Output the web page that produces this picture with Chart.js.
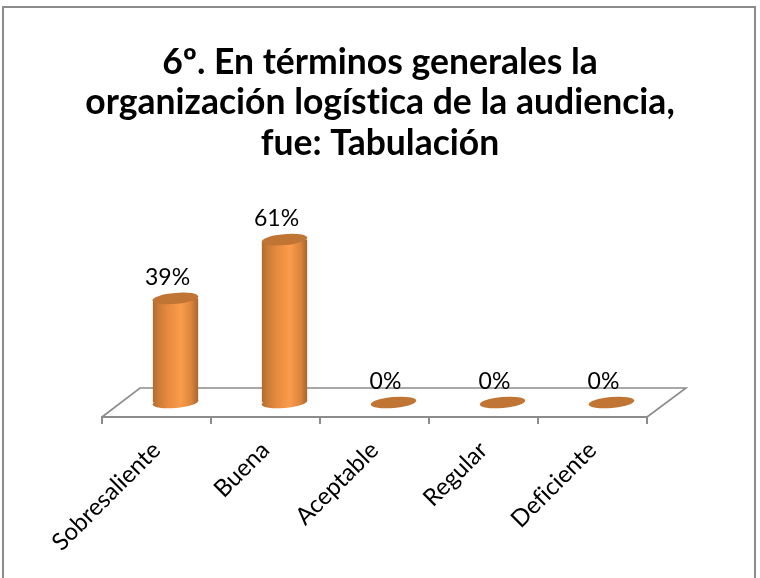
<!DOCTYPE html>
<html><head><meta charset="utf-8">
<style>html,body{margin:0;padding:0;background:#fff}#w{position:absolute;left:0;top:0;width:760px;height:578px}</style>
<script src="https://cdn.jsdelivr.net/npm/chart.js@4"></script></head>
<body><div id="w"><canvas id="c" width="760" height="578"></canvas></div>
<script>
const categories = ["Sobresaliente","Buena","Aceptable","Regular","Deficiente"];
const values = [39,61,0,0,0];
const titleLines = ["6º. En términos generales la","organización logística de la audiencia,","fue: Tabulación"];
const depthX = 19, depthY = -14.5, FONT = "Lato";
const GRID = "#8c8c8c";

function cylGrad(ctx, x, w){
  const g = ctx.createLinearGradient(x-w/2,0,x+w/2,0);
  g.addColorStop(0,"#b06a2e");g.addColorStop(.12,"#c97a36");g.addColorStop(.35,"#e98c40");
  g.addColorStop(.62,"#fb9b4b");g.addColorStop(.85,"#d9853c");g.addColorStop(1,"#a8642b");
  return g;
}
const TILT = -5*Math.PI/180;
function ell(ctx,x,y,w,h,fill){
  ctx.beginPath();ctx.ellipse(x,y,w/2,h/2,TILT,0,Math.PI*2);ctx.fillStyle=fill;ctx.fill();
}
const hiddenAxis = (position,width)=>({
  position,min:0,max:80,
  afterFit(s){s.width=width;},
  border:{display:false},grid:{display:false},ticks:{display:false}
});
const scene = {
  id:"scene",
  beforeDraw(chart){
    const {ctx,chartArea:a}=chart;
    ctx.letterSpacing="0.01px";
    ctx.save();
    ctx.strokeStyle=GRID;ctx.lineWidth=2;
    ctx.strokeRect(3,7,752,572);
    ctx.lineWidth=1.6;ctx.beginPath();
    ctx.moveTo(a.left,a.bottom);ctx.lineTo(a.left+38,a.bottom-29);
    ctx.lineTo(a.right+39,a.bottom-29);ctx.lineTo(a.right,a.bottom);
    ctx.stroke();
    ctx.restore();
  },
  beforeDatasetDraw(chart){
    const ctx=chart.ctx;ctx.save();ctx.translate(depthX,depthY);
    const els=chart.getDatasetMeta(0).data;
    els.forEach((el,i)=>{
      if(values[i]>0) ell(ctx,el.x,el.base,el.width,11,cylGrad(ctx,el.x,el.width));
    });
    ctx.save();ctx.beginPath();
    els.forEach(el=>{
      const l=el.x-el.width/2,r=el.x+el.width/2;
      ctx.moveTo(l,el.y+2);ctx.lineTo(r,el.y-2);ctx.lineTo(r,el.base-2);ctx.lineTo(l,el.base+2);ctx.closePath();
    });
    ctx.clip();
  },
  afterDatasetDraw(chart){
    const ctx=chart.ctx;ctx.restore();
    chart.getDatasetMeta(0).data.forEach((el,i)=>{
      ell(ctx,el.x,el.y,el.width,11,"#c07534");
      ctx.fillStyle="#000";ctx.font="23px "+FONT;ctx.textAlign="center";ctx.textBaseline="middle";
      ctx.fillText(values[i]+"%",el.x-8,el.y-21);
    });
    ctx.restore();
  }
};
new Chart(document.getElementById("c"),{
  type:"bar",
  data:{labels:categories,datasets:[{data:values,borderWidth:0,
    categoryPercentage:.42,barPercentage:1,
    backgroundColor(c){
      const ch=c.chart;
      if(!ch.chartArea||c.dataIndex===undefined) return "#f79646";
      const w=(ch.chartArea.width/categories.length)*.42;
      return cylGrad(ch.ctx,ch.scales.x.getPixelForValue(c.dataIndex),w);
    }}]},
  plugins:[scene],
  options:{
    responsive:false,animation:false,
    layout:{padding:{left:0,right:0,top:42,bottom:0}},
    plugins:{
      legend:{display:false},tooltip:{enabled:false},
      title:{display:true,text:titleLines,color:"#000",padding:{top:0,bottom:40},
        font:{family:FONT,size:35.5,weight:"bold",lineHeight:1.14}}
    },
    scales:{
      x:{
        afterFit(s){s.height=161;s.paddingLeft=0;s.paddingRight=0;},
        border:{display:true,color:GRID,width:2},
        grid:{drawOnChartArea:false,drawTicks:true,tickLength:7,color:GRID,lineWidth:2},
        ticks:{autoSkip:false,minRotation:45,maxRotation:45,color:"#000",padding:12,
          font:{family:FONT,size:24}}
      },
      y:hiddenAxis("left",102),
      y2:hiddenAxis("right",113)
    }
  }
});
</script></body></html>
